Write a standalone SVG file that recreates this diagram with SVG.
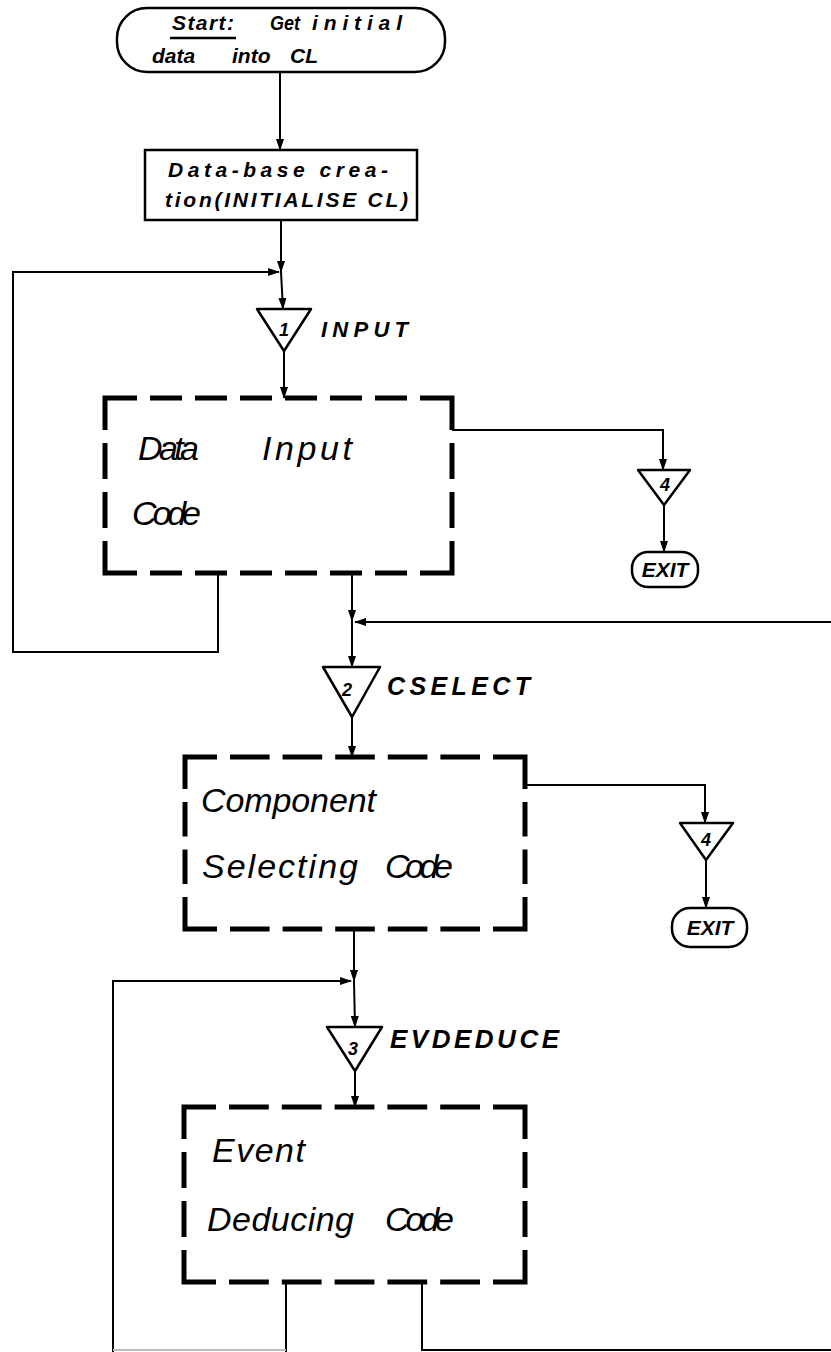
<svg xmlns="http://www.w3.org/2000/svg" width="831" height="1352" viewBox="0 0 831 1352">
<style>
.bg{fill:#fff}
.ln{fill:none;stroke:#000;stroke-width:2}
.box{fill:none;stroke:#000;stroke-width:2.5}
.dsh{fill:none;stroke:#000;stroke-width:5}
.cor{fill:none;stroke:#000;stroke-width:5}
.tri{fill:#fff;stroke:#000;stroke-width:2.5;stroke-linejoin:round}
.t{font-family:"Liberation Sans",Arial,sans-serif;font-style:italic;fill:#000}
.big{font-size:34px}
.mid{font-size:21px;font-weight:bold}
.lab{font-weight:bold}
.num{font-size:18px;font-weight:bold;text-anchor:middle}
</style>
<defs>
<marker id="ar" markerUnits="userSpaceOnUse" markerWidth="12" markerHeight="8" refX="11" refY="4" orient="auto">
<path d="M0,0 L12,4 L0,8 z" fill="#000"/>
</marker>
</defs>
<rect class="bg" x="0" y="0" width="831" height="1352"/>

<g id="connectors">
<line class="ln" x1="280" y1="72" x2="280" y2="150" marker-end="url(#ar)"/>
<line class="ln" x1="281" y1="220" x2="281" y2="272" marker-end="url(#ar)"/>
<line class="ln" x1="281" y1="272" x2="283" y2="309" marker-end="url(#ar)"/>
<path class="ln" d="M218,573 V652 H13 V272 H279" marker-end="url(#ar)"/>
<line class="ln" x1="284" y1="351" x2="284" y2="398" marker-end="url(#ar)"/>
<path class="ln" d="M452,430 H663 V470" marker-end="url(#ar)"/>
<line class="ln" x1="664" y1="505" x2="664" y2="552" marker-end="url(#ar)"/>
<line class="ln" x1="352" y1="573" x2="352" y2="621" marker-end="url(#ar)"/>
<line class="ln" x1="352" y1="621" x2="352" y2="667" marker-end="url(#ar)"/>
<line class="ln" x1="831" y1="622" x2="355" y2="622" marker-end="url(#ar)"/>
<line class="ln" x1="352" y1="717" x2="352" y2="757" marker-end="url(#ar)"/>
<path class="ln" d="M525,785 H705 V823" marker-end="url(#ar)"/>
<line class="ln" x1="706" y1="860" x2="706" y2="908" marker-end="url(#ar)"/>
<line class="ln" x1="354" y1="929" x2="354" y2="981" marker-end="url(#ar)"/>
<line class="ln" x1="354" y1="981" x2="355" y2="1027" marker-end="url(#ar)"/>
<path class="ln" d="M113,1352 V981 H351" marker-end="url(#ar)"/>
<line class="ln" x1="355" y1="1071" x2="355" y2="1107" marker-end="url(#ar)"/>
<line class="ln" x1="286" y1="1282" x2="286" y2="1352"/>
<line x1="113" y1="1350" x2="286" y2="1350" stroke="#bbb" stroke-width="2"/>
<path class="ln" d="M422,1282 V1350 H831"/>
</g>

<g id="start">
<rect class="box" x="117" y="8" width="328" height="64" rx="30" ry="30" stroke-width="3"/>
<text class="t mid" x="172" y="30" textLength="62" lengthAdjust="spacing">Start:</text>
<line x1="170" y1="38" x2="236" y2="38" stroke="#000" stroke-width="2.5"/>
<text class="t mid" x="270" y="30" textLength="30" lengthAdjust="spacingAndGlyphs">Get</text>
<text class="t mid" x="312" y="30" textLength="90" lengthAdjust="spacing">initial</text>
<text class="t mid" x="152" y="63">data</text>
<text class="t mid" x="232" y="63">into</text>
<text class="t mid" x="290" y="63">CL</text>
</g>

<g id="database">
<rect class="box" x="145" y="150" width="272" height="70"/>
<text class="t mid" x="168" y="177" font-size="22" textLength="220" lengthAdjust="spacing">Data-base crea-</text>
<text class="t mid" x="165" y="207" font-size="22" textLength="243" lengthAdjust="spacing">tion(INITIALISE CL)</text>
</g>

<g id="input-entry">
<polygon class="tri" points="257,309 311,309 284,351"/>
<text class="t num" x="284" y="336">1</text>
<text class="t lab" x="321" y="337" font-size="22" textLength="87" lengthAdjust="spacing">INPUT</text>
</g>

<g id="data-input">
<path class="cor" d="M105,430 V398 H137 M420,398 H452 V430 M452,541 V573 H420 M137,573 H105 V541"/>
<path class="dsh" style="stroke-dasharray:32 13" d="M150,398 H407 M150,573 H407"/>
<path class="dsh" style="stroke-dasharray:36 13" d="M105,443 V528 M452,443 V528"/>
<text class="t big" x="138" y="460" textLength="61" lengthAdjust="spacing">Data</text>
<text class="t big" x="262" y="460" textLength="90" lengthAdjust="spacing">Input</text>
<text class="t big" x="132" y="525" textLength="69" lengthAdjust="spacing">Code</text>
</g>

<g id="exit1">
<polygon class="tri" points="638,470 690,470 664,505"/>
<text class="t num" x="665" y="491">4</text>
<rect class="box" x="632" y="552" width="66" height="35" rx="16" ry="16"/>
<text class="t mid" x="665" y="577" text-anchor="middle" font-size="18">EXIT</text>
</g>

<g id="cselect-entry">
<polygon class="tri" points="323,667 380,667 352,717"/>
<text class="t num" x="347" y="696">2</text>
<text class="t lab" x="387" y="695" font-size="25" textLength="143" lengthAdjust="spacing">CSELECT</text>
</g>

<g id="component">
<path class="cor" d="M185,789 V757 H217 M493,757 H525 V789 M525,897 V929 H493 M217,929 H185 V897"/>
<path class="dsh" style="stroke-dasharray:39.6 13" d="M230,757 H480 M230,929 H480"/>
<path class="dsh" style="stroke-dasharray:34.5 13" d="M185,802 V884 M525,802 V884"/>
<text class="t big" x="201" y="812" textLength="175" lengthAdjust="spacing">Component</text>
<text class="t big" x="202" y="878" textLength="156" lengthAdjust="spacing">Selecting</text>
<text class="t big" x="385" y="878" textLength="68" lengthAdjust="spacing">Code</text>
</g>

<g id="exit2">
<polygon class="tri" points="680,823 733,823 706,860"/>
<text class="t num" x="706" y="846">4</text>
<rect class="box" x="672" y="908" width="75" height="39" rx="18" ry="18"/>
<text class="t mid" x="710" y="935" text-anchor="middle" font-size="18">EXIT</text>
</g>

<g id="evdeduce-entry">
<polygon class="tri" points="327,1027 382,1027 355,1071"/>
<text class="t num" x="353" y="1055">3</text>
<text class="t lab" x="390" y="1048" font-size="26" textLength="169" lengthAdjust="spacing">EVDEDUCE</text>
</g>

<g id="event">
<path class="cor" d="M184,1139 V1107 H216 M493,1107 H525 V1139 M525,1250 V1282 H493 M216,1282 H184 V1250"/>
<path class="dsh" style="stroke-dasharray:39.8 13" d="M229,1107 H480 M229,1282 H480"/>
<path class="dsh" style="stroke-dasharray:36 13" d="M184,1152 V1237 M525,1152 V1237"/>
<text class="t big" x="212" y="1162" textLength="93" lengthAdjust="spacing">Event</text>
<text class="t big" x="207" y="1231" textLength="147" lengthAdjust="spacing">Deducing</text>
<text class="t big" x="385" y="1231" textLength="69" lengthAdjust="spacing">Code</text>
</g>
</svg>
